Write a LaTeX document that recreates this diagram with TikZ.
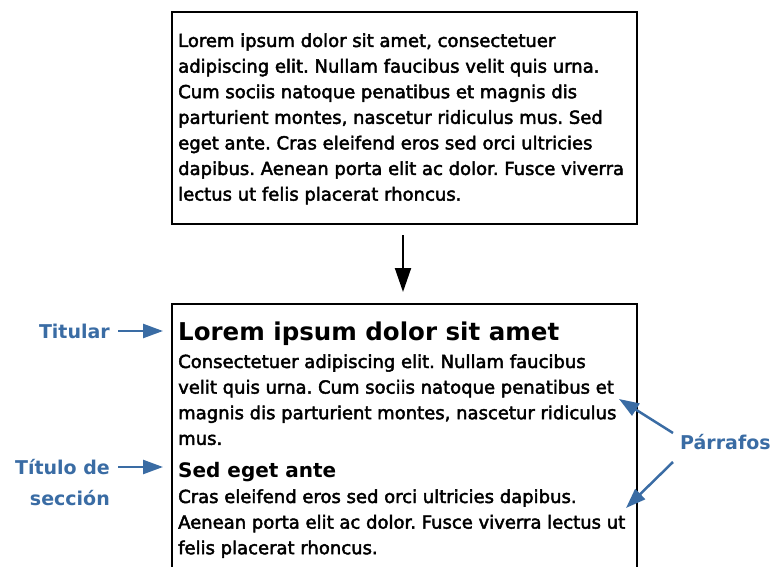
\documentclass[tikz,border=0pt]{standalone}
\usepackage{fontspec}
\setmainfont{DejaVu Sans}
\usetikzlibrary{arrows.meta}
\definecolor{lblue}{RGB}{58,108,164}
\newcommand\heavy{\special{pdf:literal direct 2 Tr 0.45 w}}
\newcommand\unheavy{\special{pdf:literal direct 0 Tr}}
\tikzset{
  page/.style={draw=black, line width=2pt},
  txt/.style={anchor=base west, inner sep=0pt, font=\fontsize{18}{20}\selectfont},
  head/.style={anchor=base west, inner sep=0pt, font=\fontsize{24.5}{28}\selectfont\bfseries},
  subhead/.style={anchor=base west, inner sep=0pt, font=\fontsize{20}{24}\selectfont\bfseries},
  lab/.style={inner sep=0pt, text=lblue, font=\fontsize{19}{31}\selectfont\bfseries, align=right, anchor=east},
  barrow/.style={-{Triangle[length=20pt,width=14pt]}, line width=2.5pt, draw=lblue},
  karrow/.style={-{Triangle[length=24pt,width=16pt]}, line width=2pt, draw=black}
}
\newcommand\mylines[1]{\vtop{\baselineskip=25.6pt #1}}
\begin{document}
\frenchspacing
\begin{tikzpicture}[x=1pt,y=-1pt]
\useasboundingbox (0,0) rectangle (776,567);
% top box
\draw[page] (172,12) rectangle (637,224);
\node[txt] (p0) at (178,47) {\mylines{%
\hbox{\heavy Lorem ipsum dolor sit amet, consectetuer}
\hbox{adipiscing elit. Nullam faucibus velit quis urna.}
\hbox{Cum sociis natoque penatibus et magnis dis}
\hbox{parturient montes, nascetur ridiculus mus. Sed}
\hbox{eget ante. Cras eleifend eros sed orci ultricies}
\hbox{dapibus. Aenean porta elit ac dolor. Fusce viverra}
\hbox{lectus ut felis placerat rhoncus.\unheavy}}};
\coordinate (a1) at (403,235);
\coordinate (a2) at (403,292);
\draw[karrow] (a1) -- (a2);
% bottom box
\draw[page] (172,580) -- (172,304) -- (637,304) -- (637,580);
\node[head] (h1) at (178,340) {Lorem ipsum dolor sit amet};
\node[txt] (p1) at (178,368) {\mylines{%
\hbox{\heavy Consectetuer adipiscing elit. Nullam faucibus}
\hbox{velit quis urna. Cum sociis natoque penatibus et}
\hbox{magnis dis parturient montes, nascetur ridiculus}
\hbox{mus.\unheavy}}};
\node[subhead] (h2) at (178,477) {Sed eget ante};
\node[txt] (p2) at (178,503) {\mylines{%
\hbox{\heavy Cras eleifend eros sed orci ultricies dapibus.}
\hbox{Aenean porta elit ac dolor. Fusce viverra lectus ut}
\hbox{felis placerat rhoncus.\unheavy}}};
% labels
\node[lab] (l1) at (110,331) {Titular};
\node[lab] (l2) at (110,483) {Título de\\sección};
\node[lab, anchor=west] (l3) at (680,442) {Párrafos};
\coordinate (t1) at (163,331);
\coordinate (t2) at (163,467);
\coordinate (q1) at (619,399);
\coordinate (q2) at (626,508);
\draw[barrow] (118,331) -- (t1);
\draw[barrow] (118,467) -- (t2);
\draw[barrow] (673,433) -- (q1);
\draw[barrow] (673,462) -- (q2);
\end{tikzpicture}
\end{document}
